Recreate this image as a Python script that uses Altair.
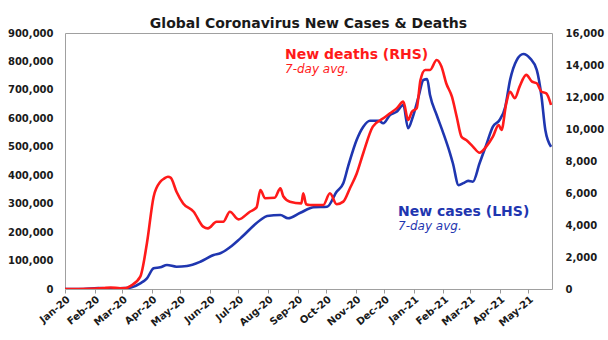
import altair as alt
import pandas as pd

# ---- data ----
case_dates = [
    "2020-01-01", "2020-01-20", "2020-02-05", "2020-02-20", "2020-03-05", "2020-03-11",
    "2020-03-20", "2020-03-27", "2020-04-03", "2020-04-10", "2020-04-17", "2020-04-27",
    "2020-05-08", "2020-05-22", "2020-06-05", "2020-06-12", "2020-06-22", "2020-07-03",
    "2020-07-24", "2020-07-31", "2020-08-14", "2020-08-22", "2020-09-04", "2020-09-18",
    "2020-10-02", "2020-10-12", "2020-10-19", "2020-10-24", "2020-11-02", "2020-11-09",
    "2020-11-16", "2020-11-25", "2020-11-30", "2020-12-07", "2020-12-14", "2020-12-21",
    "2020-12-26", "2020-12-31", "2021-01-06", "2021-01-11", "2021-01-15", "2021-01-18",
    "2021-01-25", "2021-02-01", "2021-02-08", "2021-02-11", "2021-02-17", "2021-02-22",
    "2021-02-27", "2021-03-04", "2021-03-11", "2021-03-18", "2021-03-25", "2021-04-01",
    "2021-04-07", "2021-04-12", "2021-04-19", "2021-04-26", "2021-05-03", "2021-05-10",
    "2021-05-15", "2021-05-19", "2021-05-25",
]
case_values = [
    0, 0, 3000, 2000, 3000, 6000,
    20000, 37600, 72800, 76300, 84400, 78400,
    80900, 96000, 119500, 125500, 146600, 178000,
    242600, 256600, 260000, 248500, 268300, 287200,
    289000, 342000, 371500, 430000, 523800, 570600,
    591700, 591700, 582500, 611700, 623300, 646900,
    565000, 605700, 676000, 734800, 738000, 682000,
    611700, 547300, 477000, 442000, 365000, 372000,
    380000, 377200, 442000, 506250, 570600, 594100,
    640900, 734800, 805000, 826200, 811000, 770000,
    676000, 559000, 500000,
]

death_dates = [
    "2020-01-01", "2020-01-25", "2020-02-10", "2020-02-18", "2020-02-28", "2020-03-05",
    "2020-03-10", "2020-03-20", "2020-03-27", "2020-04-03", "2020-04-10", "2020-04-14",
    "2020-04-18", "2020-04-21", "2020-04-27", "2020-05-04", "2020-05-15", "2020-05-25",
    "2020-05-30", "2020-06-08", "2020-06-15", "2020-06-22", "2020-07-01", "2020-07-13",
    "2020-07-20", "2020-07-24", "2020-07-29", "2020-08-08", "2020-08-14", "2020-08-17",
    "2020-08-24", "2020-09-05", "2020-09-07", "2020-09-10", "2020-09-14", "2020-09-28",
    "2020-10-05", "2020-10-12", "2020-10-19", "2020-10-26", "2020-11-02", "2020-11-09",
    "2020-11-19", "2020-11-30", "2020-12-07", "2020-12-14", "2020-12-21", "2020-12-26",
    "2020-12-30", "2021-01-04", "2021-01-08", "2021-01-13", "2021-01-18", "2021-01-25",
    "2021-01-30", "2021-02-04", "2021-02-10", "2021-02-15", "2021-02-20", "2021-02-25",
    "2021-03-04", "2021-03-11", "2021-03-18", "2021-03-25", "2021-03-31", "2021-04-03",
    "2021-04-08", "2021-04-12", "2021-04-17", "2021-04-22", "2021-04-29", "2021-05-05",
    "2021-05-10", "2021-05-15", "2021-05-20", "2021-05-25",
]
death_values = [
    0, 20, 60, 90, 50, 60,
    200, 770, 2875, 5770, 6700, 6900,
    7020, 6950, 6080, 5350, 4830, 3900,
    3790, 4200, 4200, 4830, 4350, 4830,
    5100, 6190, 5670, 5700, 6290, 5800,
    5460, 5350, 5980, 5300, 5250, 5250,
    5980, 5300, 5460, 6300, 7200, 8500,
    10150, 10670, 10980, 11290, 11710, 10560,
    11080, 11290, 13060, 13690, 13690, 14310,
    13900, 12860, 12020, 10770, 9520, 9310,
    8900, 8520, 8900, 9520, 10250, 9940,
    11600, 12330, 11920, 12650, 13380, 12960,
    12860, 12330, 12230, 11500,
]

month_ticks = [(2020, m) for m in range(1, 13)] + [(2021, m) for m in range(1, 6)]
left_ticks = [0, 100000, 200000, 300000, 400000, 500000, 600000, 700000, 800000, 900000]
right_ticks = [0, 2000, 4000, 6000, 8000, 10000, 12000, 14000, 16000]

title_text = "Global Coronavirus New Cases & Deaths"
deaths_label = "New deaths (RHS)"
cases_label = "New cases (LHS)"
avg_label = "7-day avg."

RED = "#FF1A1A"
BLUE = "#1F36B0"
FONT = "DejaVu Sans"
LABEL_COLOR = "#1a1a1a"

thousands_expr = "datum.value == 0 ? '0' : toString(round(datum.value / 1000)) + ',000'"
month_expr = ("['Jan','Feb','Mar','Apr','May','Jun','Jul','Aug','Sep','Oct','Nov','Dec']"
              "[utcmonth(datum.value)] + '-' + substring(toString(utcyear(datum.value)), 2, 4)")

cases_df = pd.DataFrame({"date": case_dates, "cases": case_values})
deaths_df = pd.DataFrame({"date": death_dates, "deaths": death_values})

x_enc = alt.X(
    "date:T",
    title=None,
    scale=alt.Scale(
        type="utc",
        domain=[alt.DateTime(year=2020, month=1, date=1, utc=True),
                alt.DateTime(year=2021, month=5, date=26, utc=True)],
    ),
    axis=alt.Axis(
        values=[alt.DateTime(year=y, month=m, date=1, utc=True) for y, m in month_ticks],
        tickCount={"interval": "month", "step": 1},
        labelExpr=month_expr,
        labelAngle=320,
        labelAlign="right",
        labelBaseline="top",
        labelPadding=1,
        labelOverlap=False,
        ticks=True,
        tickSize=4,
        tickColor="#999999",
        domain=False,
        grid=False,
        labelFont=FONT,
        labelFontSize=10,
        labelFontWeight="bold",
        labelColor=LABEL_COLOR,
    ),
)

cases_line = alt.Chart(cases_df).mark_line(
    color=BLUE, strokeWidth=2.6, interpolate="monotone", clip=True
).encode(
    x=x_enc,
    y=alt.Y(
        "cases:Q",
        title=None,
        scale=alt.Scale(domain=[0, 900000], nice=False),
        axis=alt.Axis(
            orient="left", values=left_ticks, labelExpr=thousands_expr,
            labelOverlap=False,
            ticks=False, domain=False, grid=False, labelPadding=12, labelFont=FONT,
            labelFontSize=10, labelFontWeight="bold", labelColor=LABEL_COLOR,
        ),
    ),
)

deaths_line = alt.Chart(deaths_df).mark_line(
    color=RED, strokeWidth=2.6, interpolate="monotone", clip=True
).encode(
    x=x_enc,
    y=alt.Y(
        "deaths:Q",
        title=None,
        scale=alt.Scale(domain=[0, 16000], nice=False),
        axis=alt.Axis(
            orient="right", values=right_ticks, labelExpr=thousands_expr,
            labelOverlap=False,
            ticks=False, domain=False, grid=False, labelPadding=13, labelFont=FONT,
            labelFontSize=10, labelFontWeight="bold", labelColor=LABEL_COLOR,
        ),
    ),
)


def ann(text, px, py, color, bold, italic, size):
    return alt.Chart(pd.DataFrame({"t": [text]})).mark_text(
        align="left", baseline="alphabetic", color=color, font=FONT,
        fontSize=size, fontWeight="bold" if bold else "normal",
        fontStyle="italic" if italic else "normal",
    ).encode(x=alt.value(px), y=alt.value(py), text="t:N")


annotations = (
    ann(deaths_label, 220, 26, RED, True, False, 14)
    + ann(avg_label, 220, 40, RED, False, True, 12)
    + ann(cases_label, 333, 183, BLUE, True, False, 14)
    + ann(avg_label, 333, 197, BLUE, False, True, 12)
)

chart = alt.layer(cases_line, deaths_line, annotations).resolve_scale(
    y="independent"
).properties(
    width=487,
    height=256,
    autosize="none",
    padding={"left": 65, "top": 33, "right": 56, "bottom": 51},
    title=alt.TitleParams(
        title_text, font=FONT, fontSize=14, fontWeight="bold", color=LABEL_COLOR,
        anchor="middle", offset=-3,
    ),
).configure_view(
    stroke="#a0a0a0", strokeWidth=1
)

chart.save("out.html", embed_options={"renderer": "svg", "actions": False})
